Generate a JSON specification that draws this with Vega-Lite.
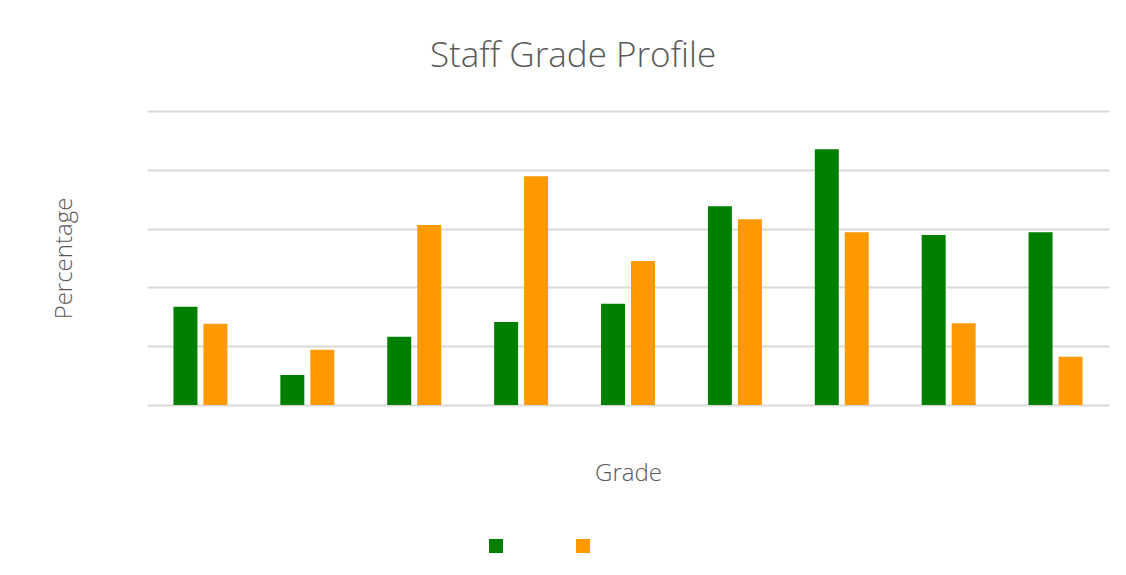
{
  "$schema": "https://vega.github.io/schema/vega-lite/v6.json",
  "width": 962,
  "height": 294,
  "autosize": "none",
  "padding": {"left": 147, "top": 111, "right": 17, "bottom": 170},
  "background": "white",
  "title": {
    "text": "Staff Grade Profile",
    "font": "Open Sans",
    "fontWeight": 300,
    "fontSize": 35,
    "color": "#595959",
    "anchor": "middle",
    "baseline": "alphabetic",
    "offset": 43,
    "dx": -55,
    "dy": 34
  },
  "data": {
    "values": [
      {"grade": "Grade 1", "series": "Series 1", "value": 16.7},
      {"grade": "Grade 1", "series": "Series 2", "value": 13.8},
      {"grade": "Grade 2", "series": "Series 1", "value": 5.1},
      {"grade": "Grade 2", "series": "Series 2", "value": 9.4},
      {"grade": "Grade 3", "series": "Series 1", "value": 11.6},
      {"grade": "Grade 3", "series": "Series 2", "value": 30.6},
      {"grade": "Grade 4", "series": "Series 1", "value": 14.1},
      {"grade": "Grade 4", "series": "Series 2", "value": 38.9},
      {"grade": "Grade 5", "series": "Series 1", "value": 17.2},
      {"grade": "Grade 5", "series": "Series 2", "value": 24.5},
      {"grade": "Grade 6", "series": "Series 1", "value": 33.8},
      {"grade": "Grade 6", "series": "Series 2", "value": 31.6},
      {"grade": "Grade 7", "series": "Series 1", "value": 43.5},
      {"grade": "Grade 7", "series": "Series 2", "value": 29.4},
      {"grade": "Grade 8", "series": "Series 1", "value": 28.9},
      {"grade": "Grade 8", "series": "Series 2", "value": 13.9},
      {"grade": "Grade 9", "series": "Series 1", "value": 29.4},
      {"grade": "Grade 9", "series": "Series 2", "value": 8.2}
    ]
  },
  "mark": {"type": "bar"},
  "encoding": {
    "x": {
      "field": "grade",
      "type": "nominal",
      "scale": {"paddingInner": 0.495, "paddingOuter": 0.2475},
      "axis": {
        "title": "Grade",
        "labels": false,
        "ticks": false,
        "domain": false,
        "titleFont": "Open Sans",
        "titleFontWeight": 300,
        "titleFontSize": 24,
        "titleColor": "#595959",
        "titlePadding": 56
      }
    },
    "xOffset": {
      "field": "series",
      "type": "nominal",
      "scale": {"paddingInner": 0.2, "paddingOuter": 0}
    },
    "y": {
      "field": "value",
      "type": "quantitative",
      "scale": {"domain": [0, 50], "nice": false},
      "axis": {
        "title": "Percentage",
        "values": [0, 10, 20, 30, 40, 50],
        "labels": false,
        "ticks": false,
        "domain": false,
        "grid": true,
        "gridColor": "#d9d9d9",
        "gridWidth": 2,
        "titleFont": "Open Sans",
        "titleFontWeight": 300,
        "titleFontSize": 24,
        "titleColor": "#595959",
        "titlePadding": 71
      }
    },
    "color": {
      "field": "series",
      "type": "nominal",
      "scale": {"domain": ["Series 1", "Series 2"], "range": ["#008000", "#FF9900"]},
      "legend": {
        "title": null,
        "orient": "none",
        "legendX": 342,
        "legendY": 428,
        "direction": "horizontal",
        "symbolType": "square",
        "symbolSize": 196,
        "symbolStrokeWidth": 0,
        "labelExpr": "''",
        "labelOffset": 0,
        "columnPadding": 73
      }
    }
  },
  "config": {
    "view": {"stroke": null},
    "axis": {"gridDash": []}
  }
}
